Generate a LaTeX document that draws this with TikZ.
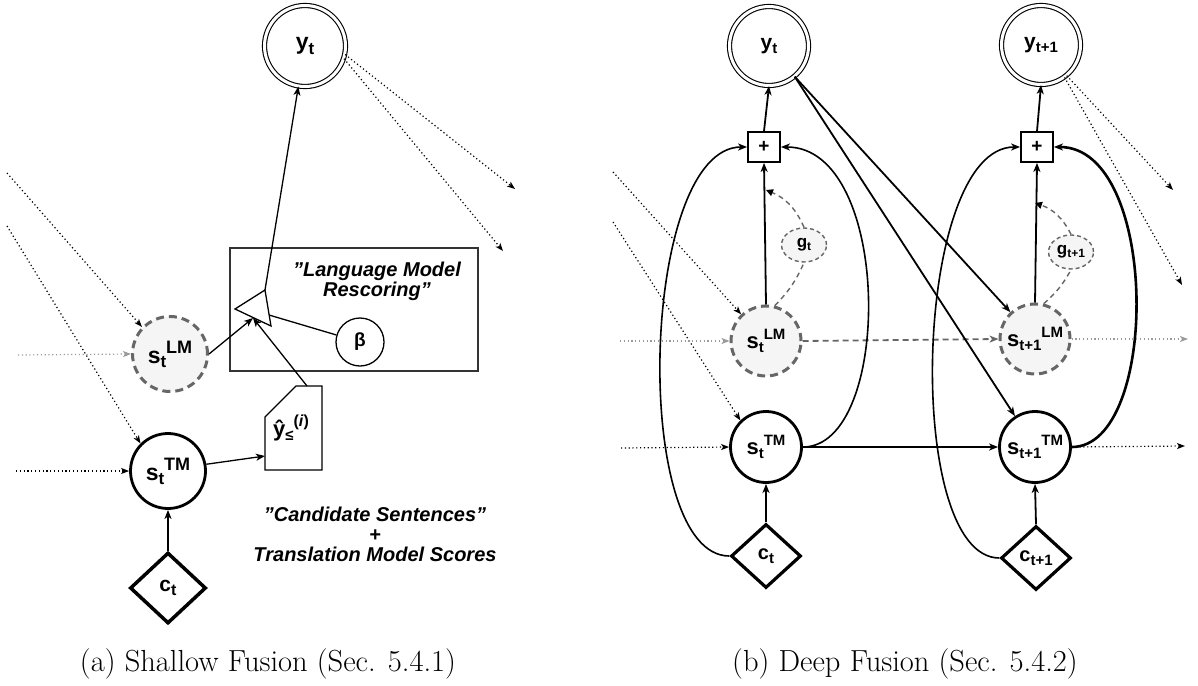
\documentclass[tikz,border=0pt]{standalone}
\usepackage{fontspec}
\setsansfont{Liberation Sans}
\usetikzlibrary{arrows.meta,shapes.geometric}
\definecolor{lmgray}{HTML}{666666}
\definecolor{lmfill}{HTML}{F5F5F5}
\definecolor{dotgray}{HTML}{9A9A9A}
\definecolor{boxgray}{HTML}{333333}
\newcommand{\fs}[1]{\fontsize{#1}{#1}\selectfont}
% lowered / raised script text: size, shift (pt), text
\newcommand{\Sb}[3]{\raisebox{-#2pt}{\fs{#1}#3}}
\newcommand{\Sp}[3]{\raisebox{#2pt}{\fs{#1}#3}}
% straight double quote
\newcommand{\dq}{\char"22\relax}
\begin{document}
\begin{tikzpicture}[x=1pt,y=-1pt,
  >={Stealth[length=9pt,width=7pt,inset=2.5pt]},
  every node/.style={inner sep=0pt, font=\sffamily\bfseries},
  ydbl/.style={circle, draw, double, line width=1.1pt, double distance=3pt, minimum size=#1},
  lmnode/.style={circle, draw=lmgray, fill=lmfill, line width=3pt, dash pattern=on 8pt off 5pt, minimum size=#1},
  tmnode/.style={circle, draw, fill=white, line width=2.8pt, minimum size=#1},
  ctxa/.style={diamond, draw, fill=white, line width=3.5pt, minimum width=76pt, minimum height=71pt},
  ctxb/.style={diamond, draw, fill=white, line width=3.2pt, minimum width=70pt, minimum height=64pt},
  gatenode/.style={ellipse, draw=lmgray, fill=lmfill, line width=1.4pt, dash pattern=on 4pt off 3pt, minimum width=45pt, minimum height=34pt},
  plusbox/.style={draw, fill=white, line width=1.8pt, minimum width=32pt, minimum height=30pt, font=\sffamily\bfseries\fs{19}},
  conn/.style={line width=1.3pt, ->},
  bconn/.style={line width=1.8pt, ->},
  plainline/.style={line width=1.3pt},
  dotc/.style={line width=1.2pt, dash pattern=on 1.2pt off 2.6pt, -{Stealth[length=8pt,width=6pt,inset=2pt]}},
  gdotc/.style={dotc, draw=dotgray, -{Stealth[length=8pt,width=6pt,inset=2pt,color=dotgray]}},
  gdash/.style={line width=1.8pt, draw=lmgray, dash pattern=on 6pt off 4pt, -{Stealth[length=9pt,width=7pt,inset=2.5pt,color=lmgray]}},
  gatelink/.style={line width=1.4pt, draw=lmgray, dash pattern=on 5pt off 4pt},
  boxtext/.style={font=\sffamily\bfseries\itshape\fs{20}, align=center},
  caption/.style={font=\rmfamily\mdseries\fs{30.5}, anchor=base}
]
\useasboundingbox (0,0) rectangle (1198,685);

% ---------------- (a) shallow fusion ----------------
\node[ydbl=81pt] (ya) at (305,46) {{\fs{23}y}\Sb{17}{5}{t}};
\node[lmnode=75pt] (sL) at (170,354) {{\fs{23}s}\Sb{17}{4}{t}\Sp{18}{10}{LM}};
\node[tmnode=75pt] (sT) at (168,471) {{\fs{23}s}\Sb{17}{4}{t}\Sp{18}{10}{TM}};
\node[ctxa] (ct) at (168,588) {{\fs{21}c}\Sb{16}{4}{t}};

% rescoring box
\node[draw=boxgray, line width=1.3pt, minimum width=248pt, minimum height=123pt] (lmbox) at (354,309.5) {};
\node[boxtext] (lmtext) at (377,281) {\fontsize{20}{25}\selectfont \dq Language Model\\Rescoring\dq};
\node[circle, draw, line width=1.3pt, minimum size=48pt, font=\sffamily\bfseries\fs{19}] (beta) at (360,342) {β};

% combiner triangle
\coordinate (tL) at (235,309);
\coordinate (tT) at (265,290);
\coordinate (tB) at (271,326);
\coordinate (mixin) at (253,318);
\coordinate (mixbeta) at (269,315);
\draw[line width=1.3pt, fill=white] (tL) -- (tT) -- (tB) -- cycle;

% candidate sentences card
\coordinate (doctop) at (307,386);
\coordinate (docleft) at (265,456);
\draw[line width=1.3pt, fill=white] (265,417) -- (296,386) -- (322,386) -- (322,470) -- (265,470) -- cycle;
\node (yhat) at (291,428) {{\fs{22}ŷ}\Sb{15}{4}{≤}\Sp{16}{10}{(\textit{i})}};

\node[boxtext] (candtext) at (375,534) {\fontsize{20}{26}\selectfont \dq Candidate Sentences\dq\\+\\Translation Model Scores};

% connectors
\draw[conn] (tT) -- (ya);
\draw[conn] (sL.east) -- (mixin);
\draw[conn] (doctop) -- (mixin);
\draw[plainline] (mixbeta) -- (beta);
\draw[conn] (sT.10) -- (docleft);
\draw[conn, line width=1.8pt] (ct.north) -- (sT.south);

% recurrent inputs and outputs
\coordinate (ia1) at (7,173);
\coordinate (ia2) at (7,226);
\coordinate (ia3) at (18,355);
\coordinate (ia4) at (16,471);
\coordinate (oa1) at (515,189);
\coordinate (oa2) at (503,251);
\draw[dotc] (ia1) -- (sL.136);
\draw[dotc] (ia2) -- (sT.135);
\draw[gdotc] (ia3) -- (sL.west);
\draw[dotc] (ia4) -- (sT.west);
\draw[dotc] (ya.-12) -- (oa1);
\draw[dotc] (ya.-18) -- (oa2);

\node[caption] (capa) at (268,671) {(a) Shallow Fusion (Sec. 5.4.1)};

% ---------------- (b) deep fusion ----------------
\node[ydbl=79pt] (yt) at (769,46) {{\fs{21}y}\Sb{15}{4}{t}};
\node[ydbl=79pt] (yt1) at (1041,45) {{\fs{21}y}\Sb{15}{4}{t+1}};
\node[plusbox] (p1) at (764,147) {+};
\node[plusbox] (p2) at (1037,147) {+};
\node[gatenode] (g1) at (804,245) {{\fs{17}g}\Sb{12}{3}{t}};
\node[gatenode] (g2) at (1071,252) {{\fs{17}g}\Sb{12}{3}{t+1}};
\node[lmnode=70pt] (l1) at (766,341) {{\fs{22}s}\Sb{15}{4}{t}\Sp{15}{9}{LM}};
\node[lmnode=70pt] (l2) at (1035,339) {{\fs{22}s}\Sb{15}{4}{t+1}\Sp{15}{9}{LM}};
\node[tmnode=71pt] (m1) at (766,447) {{\fs{22}s}\Sb{15}{4}{t}\Sp{15}{9}{TM}};
\node[tmnode=71pt] (m2) at (1035,447) {{\fs{22}s}\Sb{15}{4}{t+1}\Sp{15}{9}{TM}};
\node[ctxb] (c1) at (766,556) {{\fs{20}c}\Sb{15}{4}{t}};
\node[ctxb] (c2) at (1036,558) {{\fs{20}c}\Sb{15}{4}{t+1}};

% vertical flow
\draw[bconn] (p1.north) -- (yt.south);
\draw[bconn] (p2.north) -- (yt1.south);
\coordinate (ga1) at (766,190);
\coordinate (ga2) at (1035,203);
\draw[bconn] (l1.north) -- (p1.south);
\draw[bconn] (l2.north) -- (p2.south);
\draw[bconn] (c1.north) -- (m1.south);
\draw[bconn] (c2.north) -- (m2.south);

% gates
\draw[gatelink] (l1.76) to[bend right=10] (g1.south);
\draw[gatelink, -{Triangle[length=7pt,width=7pt,color=black]}] (g1.north) to[bend right=22] (ga1);
\draw[gatelink] (l2.76) to[bend right=10] (g2.south);
\draw[gatelink, -{Triangle[length=7pt,width=7pt,color=black]}] (g2.north) to[bend right=22] (ga2);

% horizontal flow
\draw[bconn] (m1.east) -- (m2.west);
\draw[gdash] (l1.east) -- (l2.west);

% previous output feeds the next step
\draw[bconn] (yt.-50) -- (l2);
\draw[bconn] (yt.-50) -- (m2);

% loops into the sum boxes
\draw[conn, line width=1.6pt] (c1.west) .. controls (630,556) and (640,147) .. (p1.west);
\draw[conn, line width=1.6pt] (m1.east) .. controls (893,447) and (893,147) .. (p1.east);
\draw[conn, line width=1.6pt] (c2.west) .. controls (903,558) and (913,147) .. (p2.west);
\draw[conn, line width=2.6pt] (m2.east) .. controls (1160,447) and (1160,147) .. (p2.east);

% recurrent inputs and outputs
\coordinate (ib1) at (613,172);
\coordinate (ib2) at (613,222);
\coordinate (ib3) at (620,341);
\coordinate (ib4) at (621,448);
\coordinate (ob1) at (1173,190);
\coordinate (ob2) at (1182,285);
\coordinate (ob3) at (1188,339);
\coordinate (ob4) at (1185,446);
\draw[dotc] (ib1) -- (l1.133);
\draw[dotc] (ib2) -- (m1.134);
\draw[gdotc] (ib3) -- (l1.west);
\draw[dotc] (ib4) -- (m1.west);
\draw[gdotc] (l2.east) -- (ob3);
\draw[dotc] (m2.east) -- (ob4);
\draw[dotc] (yt1.-50) -- (ob1);
\draw[dotc] (yt1.-54) -- (ob2);

\node[caption] (capb) at (905,671) {(b) Deep Fusion (Sec. 5.4.2)};
\end{tikzpicture}
\end{document}
